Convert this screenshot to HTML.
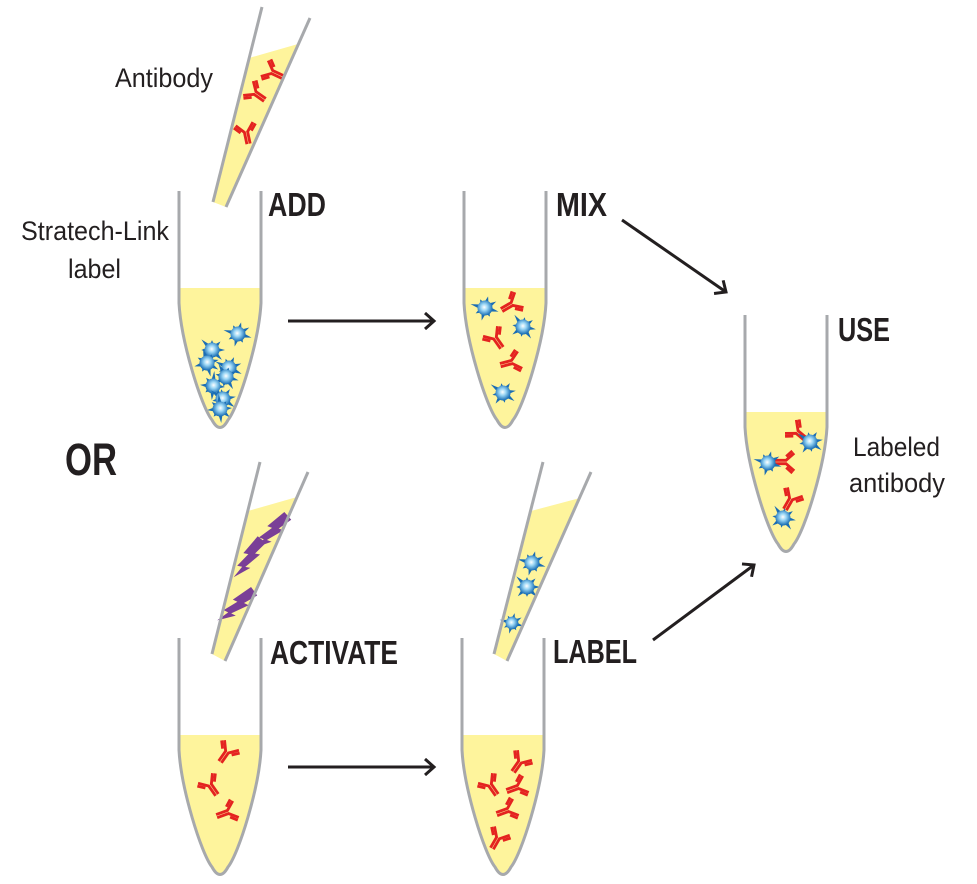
<!DOCTYPE html>
<html><head><meta charset="utf-8">
<style>
html,body{margin:0;padding:0;background:#fff;}
svg{display:block;}
text{font-family:"Liberation Sans Narrow","Liberation Sans",Arial,sans-serif;fill:#231f20;}
.b{font-weight:bold;}
</style></head>
<body>
<svg width="977" height="884" viewBox="0 0 977 884" xmlns="http://www.w3.org/2000/svg">
<defs>
  <radialGradient id="sg" cx="0.45" cy="0.45" r="0.55">
    <stop offset="0" stop-color="#ffffff"/>
    <stop offset="0.4" stop-color="#9ad6f5"/>
    <stop offset="1" stop-color="#1a6fb5"/>
  </radialGradient>
  <g id="star">
    <polygon fill="#1b6db4" transform="rotate(15)" points="14,0 5.2,2.2 7,7 2.2,5.2 0,13 -2.2,5.2 -7.6,7.6 -5.2,2.2 -15,0 -5.2,-2.2 -7,-7 -2.2,-5.2 0,-12 2.2,-5.2 9.2,-9.2 5.2,-2.2"/>
    <circle r="7.5" fill="url(#sg)"/>
  </g>
  <g id="ab" fill="none" stroke="#e42320" stroke-width="2.6" transform="scale(1.1)">
    <path d="M-1.5,11 L-1.5,0 L-8,-7.5"/>
    <path d="M1.5,11 L1.5,0 L8,-7.5"/>
    <path d="M-5,-0.2 L-10,-5.8"/>
    <path d="M5,-0.2 L10,-5.8"/>
  </g>
  <polygon id="bolt" fill="#7a3f97" points="-1,-23 9,-20 3,-6 8,-7 -1,10 4,9 -8,24 -4,11 -9,12 -3,-3 -8,-2"/>
  <path id="tfill" d="M0,97 L0,112 C2,150 22,215 33,229 Q41,244 49,229 C60,215 80,150 82,112 L82,97 Z" fill="#fef49c"/>
  <path id="tline" d="M0,0 L0,112 C2,150 22,215 33,229 Q41,244 49,229 C60,215 80,150 82,112 L82,0" fill="none" stroke="#a7a9ac" stroke-width="3"/>
  <marker id="ah" markerWidth="16" markerHeight="18" refX="11" refY="9" orient="auto" markerUnits="userSpaceOnUse">
    <path d="M2,1 L11,9 L2,17" fill="none" stroke="#231f20" stroke-width="3"/>
  </marker>
</defs>

<!-- Top pipette (Antibody) -->
<polygon points="249,58 298,44 226,207 213,202" fill="#fef49c"/>
<use href="#ab" transform="translate(272,72) rotate(-65)"/>
<use href="#ab" transform="translate(255,93) rotate(-55)"/>
<use href="#ab" transform="translate(246,132) rotate(-12)"/>
<path d="M262,7 L213,202" stroke="#a7a9ac" stroke-width="3" fill="none"/>
<path d="M310,18 L226,207" stroke="#a7a9ac" stroke-width="3" fill="none"/>

<!-- Tube 1 (ADD) -->
<g transform="translate(179,191)">
  <use href="#tfill"/>
</g>
<use href="#star" transform="translate(238,334)"/>
<use href="#star" transform="translate(212,350) rotate(30)"/>
<use href="#star" transform="translate(207,363) rotate(60)"/>
<use href="#star" transform="translate(229,368) rotate(10)"/>
<use href="#star" transform="translate(226,377) rotate(45)"/>
<use href="#star" transform="translate(213,386) rotate(80)"/>
<use href="#star" transform="translate(223,399) rotate(20)"/>
<use href="#star" transform="translate(220,409) rotate(70)"/>
<g transform="translate(179,191)">
  <use href="#tline"/>
</g>

<!-- Tube 2 (MIX) -->
<g transform="translate(464,191)">
  <use href="#tfill"/>
</g>
<use href="#star" transform="translate(485,308)"/>
<use href="#star" transform="translate(523,327) rotate(40)"/>
<use href="#star" transform="translate(503,393) rotate(20)"/>
<use href="#ab" transform="translate(512,304) rotate(60)"/>
<use href="#ab" transform="translate(495,338) rotate(-35)"/>
<use href="#ab" transform="translate(512,362) rotate(75)"/>
<g transform="translate(464,191)">
  <use href="#tline"/>
</g>

<!-- USE tube -->
<g transform="translate(745,315)">
  <use href="#tfill"/>
</g>
<use href="#ab" transform="translate(797,432) rotate(-50)"/>
<use href="#star" transform="translate(810,442) rotate(20)"/>
<use href="#ab" transform="translate(786,462) rotate(90)"/>
<use href="#star" transform="translate(768,463)"/>
<use href="#ab" transform="translate(791,499) rotate(30)"/>
<use href="#star" transform="translate(783,518) rotate(40)"/>
<g transform="translate(745,315)">
  <use href="#tline"/>
</g>

<!-- Activate pipette -->
<polygon points="248,511 297,497 225,661 212,654" fill="#fef49c"/>
<use href="#bolt" transform="translate(273,532) rotate(32)"/>
<use href="#bolt" transform="translate(250,558) rotate(22)"/>
<use href="#bolt" transform="translate(238,606) rotate(37)"/>
<path d="M260,462 L212,654" stroke="#a7a9ac" stroke-width="3" fill="none"/>
<path d="M308,472 L225,661" stroke="#a7a9ac" stroke-width="3" fill="none"/>

<!-- Activate tube -->
<g transform="translate(179,638)">
  <use href="#tfill"/>
</g>
<use href="#ab" transform="translate(227,752) rotate(35)"/>
<use href="#ab" transform="translate(210,785) rotate(-35)"/>
<use href="#ab" transform="translate(228,812) rotate(70)"/>
<g transform="translate(179,638)">
  <use href="#tline"/>
</g>

<!-- Label pipette -->
<polygon points="531,511 580,498 507,661 494,654" fill="#fef49c"/>
<use href="#star" transform="translate(532,563)"/>
<use href="#star" transform="translate(527,587) rotate(30)"/>
<use href="#star" transform="translate(512,623) scale(0.85)"/>
<path d="M543,462 L494,654" stroke="#a7a9ac" stroke-width="3" fill="none"/>
<path d="M591,472 L507,661" stroke="#a7a9ac" stroke-width="3" fill="none"/>

<!-- Label tube -->
<g transform="translate(462,638)">
  <use href="#tfill"/>
</g>
<use href="#ab" transform="translate(520,762) rotate(35)"/>
<use href="#ab" transform="translate(490,785) rotate(-35)"/>
<use href="#ab" transform="translate(518,787) rotate(70)"/>
<use href="#ab" transform="translate(508,810) rotate(70)"/>
<use href="#ab" transform="translate(498,838) rotate(30)"/>
<g transform="translate(462,638)">
  <use href="#tline"/>
</g>

<!-- Arrows -->
<g stroke="#231f20" stroke-width="3" fill="none">
  <line x1="288" y1="321" x2="434" y2="321" marker-end="url(#ah)"/>
  <line x1="288" y1="767" x2="434" y2="767" marker-end="url(#ah)"/>
  <line x1="622" y1="220" x2="726" y2="292" marker-end="url(#ah)"/>
  <line x1="653" y1="640" x2="754" y2="565" marker-end="url(#ah)"/>
</g>

<!-- Text -->
<text x="115" y="87" font-size="27" textLength="98" lengthAdjust="spacingAndGlyphs">Antibody</text>
<text x="21" y="240" font-size="27" textLength="148" lengthAdjust="spacingAndGlyphs">Stratech-Link</text>
<text x="68" y="278" font-size="27" textLength="53" lengthAdjust="spacingAndGlyphs">label</text>
<text class="b" x="268" y="216" font-size="33" textLength="58" lengthAdjust="spacingAndGlyphs">ADD</text>
<text class="b" x="556" y="216" font-size="33" textLength="51" lengthAdjust="spacingAndGlyphs">MIX</text>
<text class="b" x="838" y="341" font-size="33" textLength="52" lengthAdjust="spacingAndGlyphs">USE</text>
<text class="b" x="65" y="475" font-size="45" textLength="52" lengthAdjust="spacingAndGlyphs">OR</text>
<text class="b" x="270" y="664" font-size="33" textLength="128" lengthAdjust="spacingAndGlyphs">ACTIVATE</text>
<text class="b" x="553" y="663" font-size="33" textLength="84" lengthAdjust="spacingAndGlyphs">LABEL</text>
<text x="853" y="456" font-size="27" textLength="87" lengthAdjust="spacingAndGlyphs">Labeled</text>
<text x="849" y="492" font-size="27" textLength="96" lengthAdjust="spacingAndGlyphs">antibody</text>
</svg>
</body></html>
